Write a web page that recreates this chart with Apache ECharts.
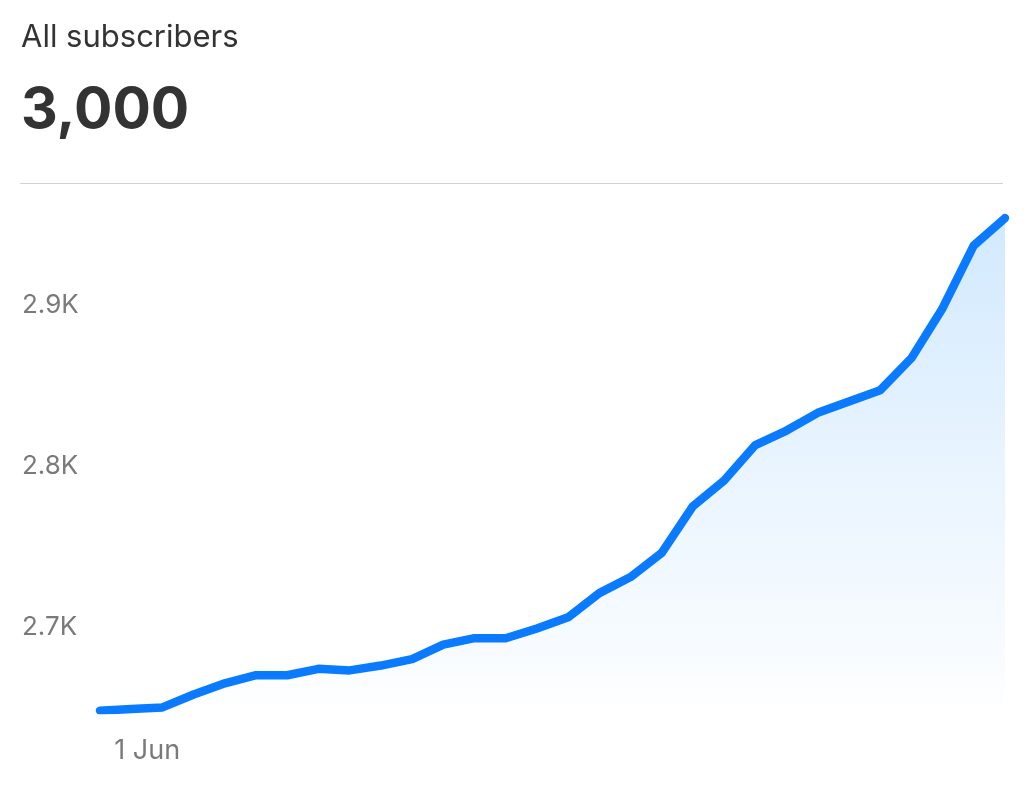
<!DOCTYPE html>
<html>
<head>
<meta charset="utf-8">
<script src="https://cdn.jsdelivr.net/npm/echarts@6/dist/echarts.min.js"></script>
<style>
html,body{margin:0;padding:0;background:#fff;}
#chart{width:1024px;height:806px;}
</style>
</head>
<body>
<div id="chart"></div>
<script>
const categories = ['31 May','1 Jun','2 Jun','3 Jun','4 Jun','5 Jun','6 Jun','7 Jun','8 Jun','9 Jun',
  '10 Jun','11 Jun','12 Jun','13 Jun','14 Jun','15 Jun','16 Jun','17 Jun','18 Jun','19 Jun',
  '20 Jun','21 Jun','22 Jun','23 Jun','24 Jun','25 Jun','26 Jun','27 Jun','28 Jun','29 Jun'];
const subscribers = [2648, 2649, 2650, 2658, 2665, 2670, 2670, 2674, 2673, 2676,
  2680, 2689, 2693, 2693, 2699, 2706, 2721, 2731, 2746, 2775,
  2791, 2813, 2822, 2833, 2840, 2847, 2867, 2898, 2937, 2954];
const yTicks = [2700, 2800, 2900];
const yTickLabels = ['2.7K', '2.8K', '2.9K'];
const titleText = 'All subscribers';
const totalText = '3,000';

const FONT = 'Inter, "Noto Sans", sans-serif';
const chart = echarts.init(document.getElementById('chart'), null, {renderer: 'canvas'});
chart.setOption({
  backgroundColor: '#ffffff',
  animation: false,
  title: [
    {text: titleText, left: 21, top: 22, padding: 0,
     textStyle: {fontFamily: FONT, fontSize: 31, fontWeight: 'normal', color: '#333333', lineHeight: 31}},
    {text: totalText, left: 21, top: 82, padding: 0,
     textStyle: {fontFamily: FONT, fontSize: 57, fontWeight: 'bold', color: '#333333', lineHeight: 57}}
  ],
  graphic: [
    {type: 'line', shape: {x1: 20, y1: 183.5, x2: 1003, y2: 183.5},
     style: {stroke: '#d2d2d2', lineWidth: 1.2}, silent: true}
  ],
  grid: {left: 100, right: 19, top: 183, bottom: 96},
  xAxis: {
    type: 'category',
    data: categories,
    boundaryGap: false,
    axisLine: {show: false},
    axisTick: {show: false},
    splitLine: {show: false},
    axisLabel: {
      interval: (i) => i === 1,
      margin: 27,
      padding: [0, 0, 0, 32],
      fontFamily: FONT, fontSize: 27, color: '#7a7a7a'
    }
  },
  yAxis: {
    type: 'value',
    min: 2648.4,
    max: 2975.8,
    axisLine: {show: false},
    axisTick: {show: false},
    splitLine: {show: false},
    axisLabel: {
      customValues: yTicks,
      formatter: (v) => yTickLabels[yTicks.indexOf(Math.round(v))] || '',
      align: 'left',
      margin: 78,
      fontFamily: FONT, fontSize: 26, color: '#7a7a7a'
    }
  },
  series: [{
    type: 'line',
    data: subscribers,
    symbol: 'none',
    smooth: false,
    lineStyle: {color: '#0a7bff', width: 8.5, cap: 'round', join: 'round'},
    areaStyle: {
      color: new echarts.graphic.LinearGradient(0, 0, 0, 1, [
        {offset: 0, color: 'rgba(40,150,250,0.30)'},
        {offset: 0.5, color: 'rgba(40,150,250,0.15)'},
        {offset: 0.88, color: 'rgba(40,150,250,0.05)'},
        {offset: 1, color: 'rgba(40,150,250,0.0)'}
      ])
    }
  }]
});
</script>
</body>
</html>
